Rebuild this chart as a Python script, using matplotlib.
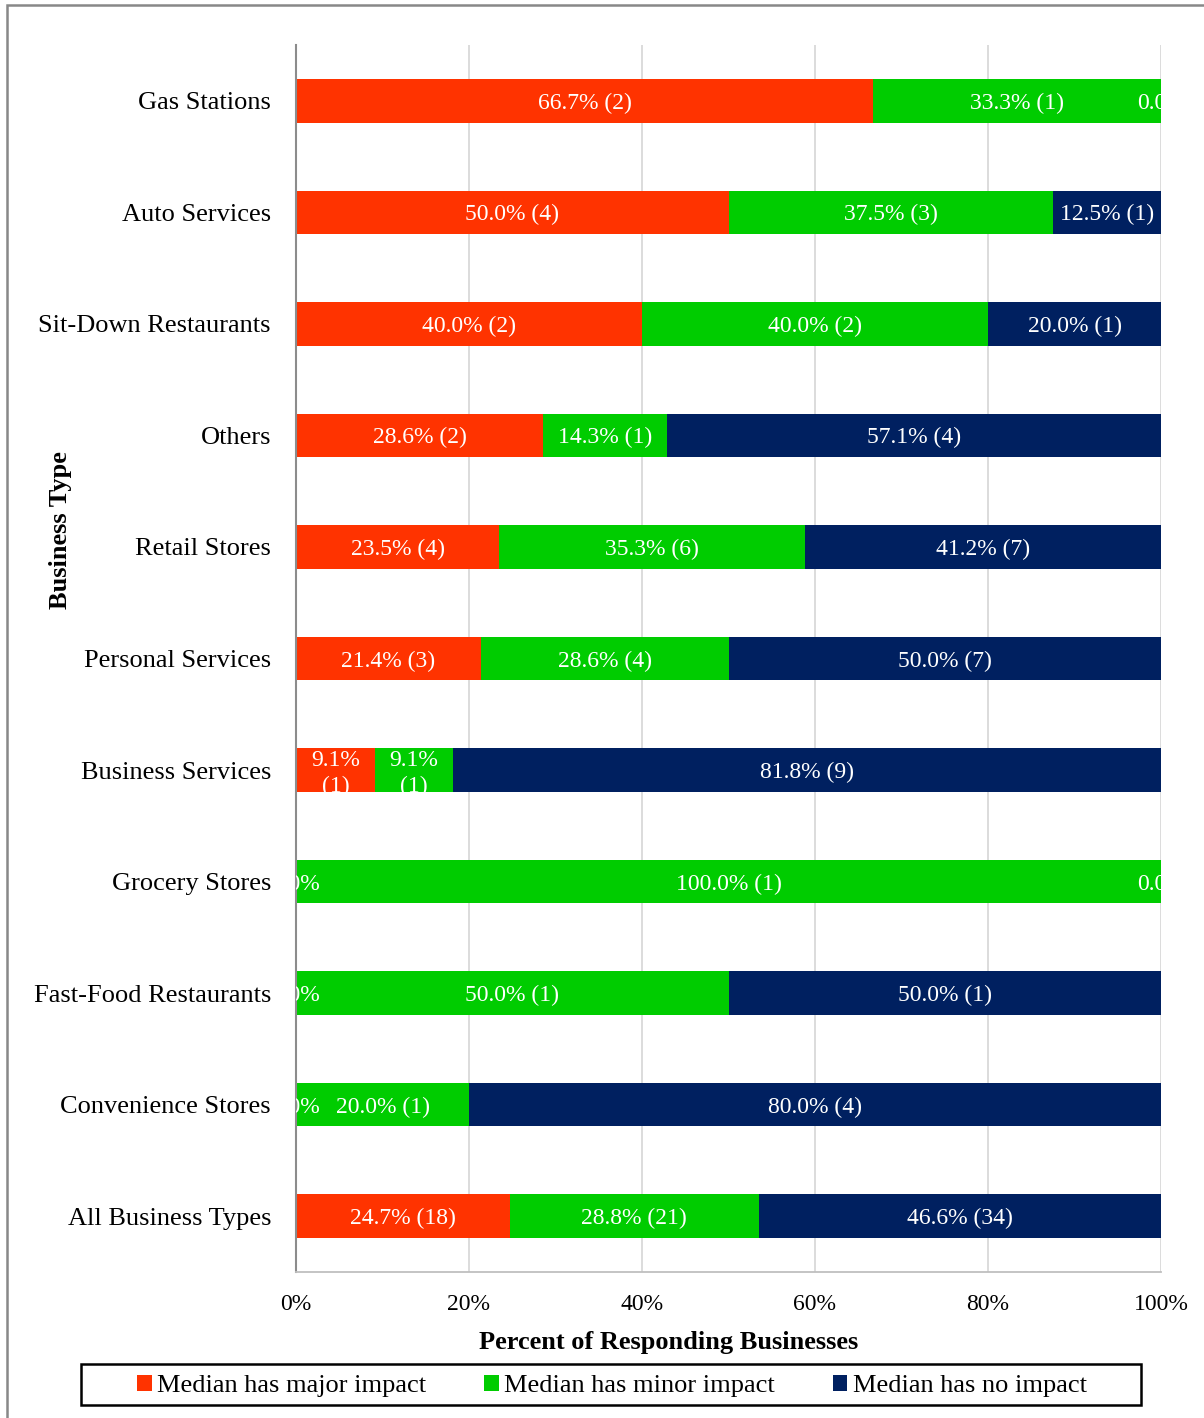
import matplotlib.pyplot as plt
from matplotlib.patches import Rectangle

plt.rcParams['font.family'] = ['Liberation Serif', 'DejaVu Serif']

categories = ['Gas Stations', 'Auto Services', 'Sit-Down Restaurants', 'Others',
              'Retail Stores', 'Personal Services', 'Business Services',
              'Grocery Stores', 'Fast-Food Restaurants', 'Convenience Stores',
              'All Business Types']
major_pct = [66.7, 50.0, 40.0, 28.6, 23.5, 21.4, 9.1, 0.0, 0.0, 0.0, 24.7]
major_n = [2, 4, 2, 2, 4, 3, 1, 0, 0, 0, 18]
minor_pct = [33.3, 37.5, 40.0, 14.3, 35.3, 28.6, 9.1, 100.0, 50.0, 20.0, 28.8]
minor_n = [1, 3, 2, 1, 6, 4, 1, 1, 1, 1, 21]
none_pct = [0.0, 12.5, 20.0, 57.1, 41.2, 50.0, 81.8, 0.0, 50.0, 80.0, 46.6]
none_n = [0, 1, 1, 4, 7, 7, 9, 0, 1, 4, 34]

series = [('Median has major impact', major_pct, major_n, '#FF3300'),
          ('Median has minor impact', minor_pct, minor_n, '#00CC00'),
          ('Median has no impact', none_pct, none_n, '#002060')]

W, H = 1204, 1418
fig = plt.figure(figsize=(W / 100, H / 100), dpi=100)
ax = fig.add_axes([296 / W, 1 - 1272 / H, (1161 - 296) / W, (1272 - 45) / H])

y = list(range(len(categories)))
left = [0.0] * len(categories)
handles = []
for name, pct, cnt, color in series:
    bars = ax.barh(y, pct, left=left, height=0.39, color=color, label=name)
    handles.append(bars)
    for i, (p, n, b) in enumerate(zip(pct, cnt, bars)):
        if p == 0:
            ax.text(left[i], i, '0.0%', color='white', fontsize=17,
                    ha='center', va='center_baseline', clip_on=True)
        elif p < 10:
            # narrow segment: label wraps and is cut by the bar edge
            t = ax.text(left[i] + p / 2, i + 0.03, f'{p:.1f}%\n({n})', color='white',
                        fontsize=17, ha='center', va='center', linespacing=1.3)
            t.set_clip_path(b)
        else:
            ax.text(left[i] + p / 2, i, f'{p:.1f}% ({n})', color='white',
                    fontsize=17, ha='center', va='center_baseline')
    left = [l + p for l, p in zip(left, pct)]

ax.set_xlim(0, 100)
ax.set_ylim(len(categories) - 0.5, -0.5)
ax.set_yticks(y)
ax.set_yticklabels(categories, fontsize=19)
ax.set_xticks([0, 20, 40, 60, 80, 100])
ax.set_xticklabels(['0%', '20%', '40%', '60%', '80%', '100%'], fontsize=17)
ax.tick_params(axis='both', length=0)
ax.tick_params(axis='y', pad=18)
ax.tick_params(axis='x', pad=16)
ax.set_axisbelow(True)
ax.xaxis.grid(True, color='#D9D9D9', lw=1.3)
for s in ['top', 'right']:
    ax.spines[s].set_visible(False)
ax.spines['left'].set_color('#8C8C8C')
ax.spines['left'].set_linewidth(1.5)
ax.spines['bottom'].set_color('#BFBFBF')
ax.spines['bottom'].set_linewidth(1.3)

fig.text(669 / W, 1 - 1342 / H, 'Percent of Responding Businesses', fontsize=19,
         fontweight='bold', ha='center', va='center')
fig.text(61 / W, 1 - 530 / H, 'Business Type', fontsize=19, fontweight='bold',
         rotation=90, ha='center', va='center')

# legend box
fig.patches.append(Rectangle((81 / W, 1 - 1405 / H), (1141 - 81) / W, 41 / H,
                             transform=fig.transFigure, fill=False,
                             edgecolor='black', lw=1.8))
fig.legend(handles=handles, loc='center', bbox_to_anchor=(612 / W, 1 - 1386 / H),
           ncol=3, frameon=False, fontsize=19, handlelength=0.55, handleheight=0.55,
           handletextpad=0.2, columnspacing=2.2)

# outer chart border
fig.patches.append(Rectangle((7 / W, -0.1), 1.2, 1.1 - 5 / H,
                             transform=fig.transFigure, fill=False,
                             edgecolor='#888888', lw=1.8))

fig.savefig('out.png', dpi=100)
